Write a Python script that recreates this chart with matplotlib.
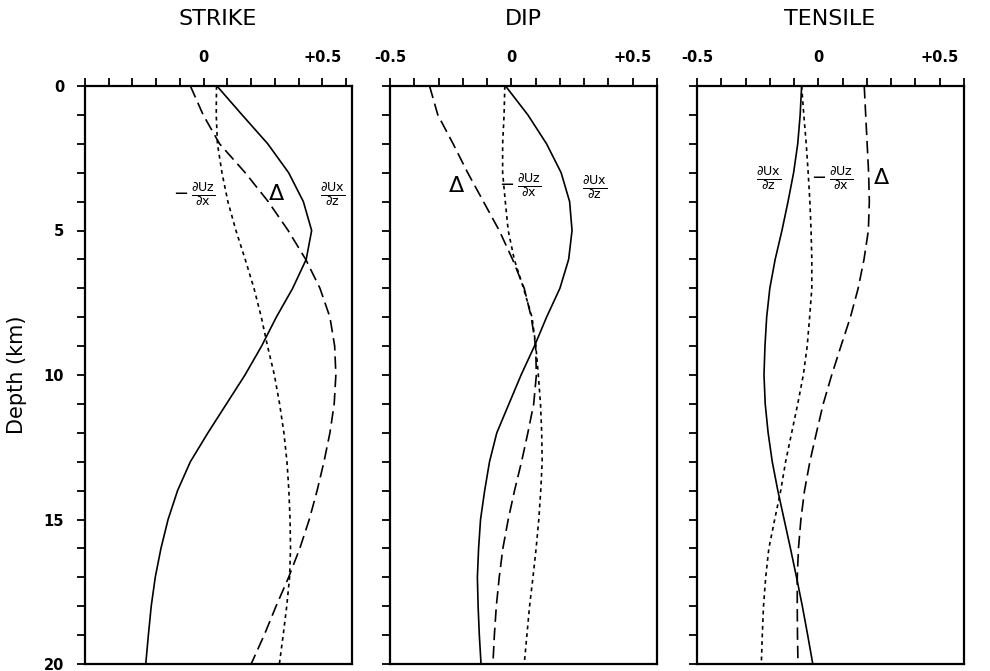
import numpy as np
import matplotlib.pyplot as plt

# depth (km) at which the curves were read
depth = list(range(0, 21))

# STRIKE
strike_duxdz = [0.056, 0.162, 0.27, 0.358, 0.42, 0.455, 0.432, 0.375, 0.306, 0.244, 0.174,
                0.096, 0.018, -0.056, -0.11, -0.15, -0.18, -0.204, -0.221, -0.233, -0.244]
strike_delta = [-0.056, -0.002, 0.067, 0.175, 0.272, 0.356, 0.43, 0.49, 0.532, 0.552, 0.557,
                0.55, 0.532, 0.507, 0.478, 0.445, 0.405, 0.358, 0.305, 0.255, 0.2]
strike_duzdx = [0.054, 0.053, 0.058, 0.077, 0.102, 0.136, 0.175, 0.212, 0.243, 0.269, 0.298,
                0.32, 0.338, 0.351, 0.359, 0.364, 0.366, 0.362, 0.35, 0.335, 0.319]

# DIP
dip_duxdz = [-0.024, 0.068, 0.145, 0.205, 0.24, 0.25, 0.236, 0.2, 0.145, 0.095, 0.04,
             -0.01, -0.06, -0.09, -0.11, -0.127, -0.135, -0.14, -0.137, -0.132, -0.125]
dip_delta = [-0.337, -0.303, -0.24, -0.18, -0.115, -0.05, 0.005, 0.053, 0.082, 0.1, 0.103,
             0.092, 0.068, 0.042, 0.013, -0.013, -0.035, -0.05, -0.062, -0.07, -0.076]
dip_duzdx = [-0.027, -0.03, -0.036, -0.036, -0.025, -0.013, 0.012, 0.05, 0.085, 0.101, 0.111,
             0.12, 0.125, 0.127, 0.121, 0.113, 0.102, 0.089, 0.075, 0.064, 0.053]

# TENSILE
tens_duxdz = [-0.069, -0.075, -0.085, -0.102, -0.125, -0.15, -0.178, -0.2, -0.213, -0.22, -0.224,
              -0.219, -0.207, -0.19, -0.167, -0.141, -0.115, -0.09, -0.066, -0.044, -0.023]
tens_delta = [0.189, 0.195, 0.201, 0.207, 0.21, 0.206, 0.188, 0.164, 0.132, 0.093, 0.055,
              0.02, -0.008, -0.035, -0.057, -0.072, -0.082, -0.087, -0.087, -0.086, -0.084]
tens_duzdx = [-0.069, -0.06, -0.05, -0.042, -0.035, -0.03, -0.027, -0.027, -0.036, -0.046, -0.062,
              -0.085, -0.11, -0.135, -0.155, -0.18, -0.204, -0.217, -0.226, -0.231, -0.235]

titles = ['STRIKE', 'DIP', 'TENSILE']
xlims = [(-0.375, 0.625), (-0.5, 0.5), (-0.5, 0.5)]
xmajor = [[0, 0.5], [-0.5, 0, 0.5], [-0.5, 0, 0.5]]
xmajor_lab = [['0', '+0.5'], ['-0.5', '0', '+0.5'], ['-0.5', '0', '+0.5']]

# label positions (x, depth) : -dUz/dx start, delta, dUx/dz
lab_duzdx = [(-0.13, 3.75), (-0.05, 3.45), (-0.03, 3.2)]
lab_delta = [(0.306, 3.75), (-0.224, 3.45), (0.26, 3.2)]
lab_duxdz = [(0.544, 3.75), (0.342, 3.5), (-0.204, 3.2)]

series = [(strike_duxdz, strike_delta, strike_duzdx),
          (dip_duxdz, dip_delta, dip_duzdx),
          (tens_duxdz, tens_delta, tens_duzdx)]

plt.rcParams['mathtext.fontset'] = 'dejavusans'

fig = plt.figure(figsize=(9.9, 6.71), dpi=100)
lefts = [85/990, 390/990, 697/990]
for i in range(3):
    ax = fig.add_axes([lefts[i], 1 - 664/671, 267/990, 578/671])
    sx, dl, sz = series[i]
    ax.plot(sx, depth, color='black', lw=1.2)
    ax.plot(dl, depth, color='black', lw=1.2, dashes=(7.5, 3.5))
    ax.plot(sz, depth, color='black', lw=1.2, dashes=(2.3, 2.3))

    ax.set_xlim(*xlims[i])
    ax.set_ylim(20, 0)
    ax.xaxis.tick_top()
    ax.set_xticks(xmajor[i])
    ax.set_xticklabels(xmajor_lab[i], fontsize=10.5, fontweight='bold')
    ax.set_xticks(np.arange(-0.5, 0.61, 0.1), minor=True)
    ax.set_yticks([0, 5, 10, 15, 20])
    ax.set_yticks(range(0, 21), minor=True)
    ax.tick_params(which='both', direction='out', length=6, width=1.3)
    ax.tick_params(axis='x', which='major', pad=9)
    if i == 0:
        ax.set_yticklabels(['0', '5', '10', '15', '20'], fontsize=10.5, fontweight='bold')
        ax.tick_params(axis='y', pad=9)
        ax.set_ylabel('Depth (km)', fontsize=15, labelpad=12)
    else:
        ax.set_yticklabels([])
    for s in ax.spines.values():
        s.set_linewidth(1.6)

    ax.text(lab_duzdx[i][0], lab_duzdx[i][1], r'$-\,\frac{\partial\mathrm{Uz}}{\partial\mathrm{x}}$',
            fontsize=13, ha='left', va='center')
    ax.text(lab_delta[i][0], lab_delta[i][1], r'$\Delta$', fontsize=16, ha='center', va='center')
    ax.text(lab_duxdz[i][0], lab_duxdz[i][1], r'$\frac{\partial\mathrm{Ux}}{\partial\mathrm{z}}$',
            fontsize=13, ha='center', va='center')

    fig.text(lefts[i] + 133/990, 1 - 19/671, titles[i], fontsize=16, ha='center', va='center')

fig.savefig('out.png', dpi=100)
